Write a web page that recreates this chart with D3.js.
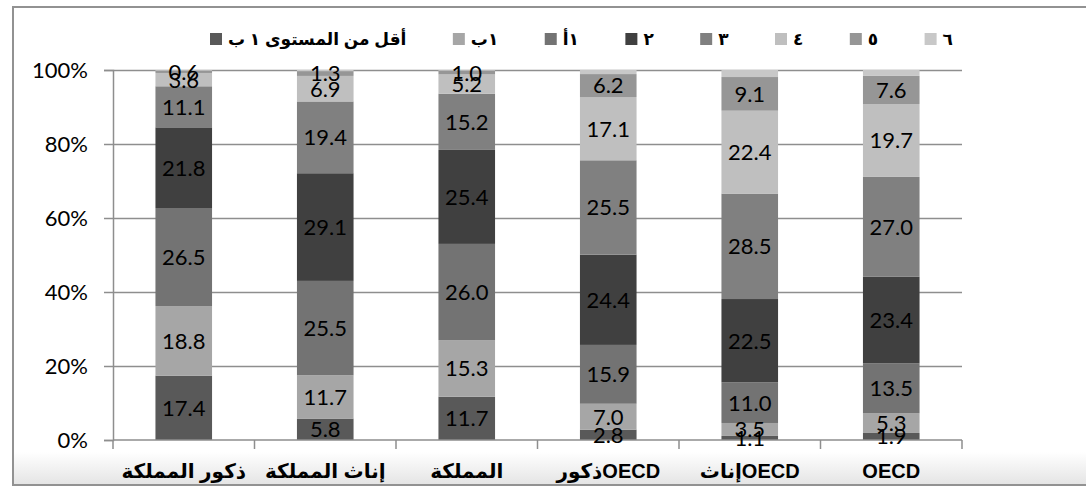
<!DOCTYPE html>
<html>
<head>
<meta charset="utf-8">
<script src="https://cdn.jsdelivr.net/npm/d3@7"></script>
<style>
  body { margin: 0; background: #fff; }
  svg { display: block; }
</style>
</head>
<body>
<svg id="chart"></svg>
<script>
const width = 1086;
const height = 487;

// categories, left to right
const categories = ["ذكور المملكة", "إناث المملكة", "المملكة", "ذكورOECD", "إناثOECD", "OECD"];

// series, bottom to top
const seriesNames = ["أقل من المستوى ١ ب", "١ب", "١أ", "٢", "٣", "٤", "٥", "٦"];
const below1b = [17.4, 5.8, 11.7, 2.8, 1.1, 1.9];
const level1b = [18.8, 11.7, 15.3, 7.0, 3.5, 5.3];
const level1a = [26.5, 25.5, 26.0, 15.9, 11.0, 13.5];
const level2 = [21.8, 29.1, 25.4, 24.4, 22.5, 23.4];
const level3 = [11.1, 19.4, 15.2, 25.5, 28.5, 27.0];
const level4 = [3.6, 6.9, 5.2, 17.1, 22.4, 19.7];
const level5 = [0.6, 1.3, 1.0, 6.2, 9.1, 7.6];
const level6 = [0.2, 0.3, 0.2, 1.1, 1.9, 1.6];

const yTicks = [0, 0.2, 0.4, 0.6, 0.8, 1];

const colors = ["#595959", "#a6a6a6", "#737373", "#404040", "#808080", "#bfbfbf", "#969696", "#c8c8c8"];
// level 6 has no labels in the original
const showLabel = [true, true, true, true, true, true, true, false];

const seriesValues = [below1b, level1b, level1a, level2, level3, level4, level5, level6];

const rows = categories.map((c, i) => {
    const r = { cat: c };
    seriesNames.forEach((s, j) => r[s] = seriesValues[j][i]);
    return r;
});

const stacked = d3.stack()
    .keys(seriesNames)
    .offset(d3.stackOffsetExpand)(rows);

const plot = { left: 113, right: 962, top: 70, bottom: 440 };
const numFont = "Lato, 'Open Sans', sans-serif";
const boldFont = "'Liberation Sans', 'DejaVu Sans', sans-serif";

const svg = d3.select("#chart")
    .attr("width", width)
    .attr("height", height)
    .attr("viewBox", [0, 0, width, height]);

// chart area frame with light shade at the bottom
const defs = svg.append("defs");
const grad = defs.append("linearGradient")
    .attr("id", "shade")
    .attr("x1", 0).attr("x2", 0).attr("y1", 0).attr("y2", 1);
grad.append("stop").attr("offset", "0%").attr("stop-color", "#ffffff");
grad.append("stop").attr("offset", "100%").attr("stop-color", "#e4e4e4");

svg.append("rect")
    .attr("x", 13).attr("y", 452)
    .attr("width", width).attr("height", 33)
    .attr("fill", "url(#shade)");

svg.append("rect")
    .attr("x", 13).attr("y", 7)
    .attr("width", width + 10).attr("height", 478)
    .attr("fill", "none")
    .attr("stroke", "#929292")
    .attr("stroke-width", 2);

const x = d3.scaleBand()
    .domain(categories)
    .range([plot.left, plot.right])
    .paddingInner(0.6)
    .paddingOuter(0.3);

const y = d3.scaleLinear()
    .domain([0, 1])
    .range([plot.bottom, plot.top]);

// gridlines
svg.append("g")
    .attr("transform", `translate(${plot.left},0)`)
    .call(d3.axisLeft(y).tickValues(yTicks.slice(1)).tickSize(-(plot.right - plot.left)).tickFormat(""))
    .call(g => g.select(".domain").remove())
    .call(g => g.selectAll("line").attr("stroke", "#8e8e8e").attr("stroke-width", 1.5));

// y axis
svg.append("g")
    .attr("transform", `translate(${plot.left},0)`)
    .call(d3.axisLeft(y).tickValues(yTicks).tickSize(9).tickPadding(16).tickFormat(d3.format(".0%")))
    .call(g => g.select(".domain").attr("stroke", "#8e8e8e").attr("stroke-width", 1.5))
    .call(g => g.selectAll("line").attr("stroke", "#8e8e8e").attr("stroke-width", 1.5))
    .call(g => g.selectAll("text")
        .attr("font-family", numFont)
        .attr("font-size", 22)
        .attr("fill", "#000"));

// bars
const layer = svg.append("g")
    .selectAll("g")
    .data(stacked)
    .join("g")
    .attr("fill", (d, i) => colors[i]);

layer.selectAll("rect")
    .data(d => d)
    .join("rect")
    .attr("x", d => x(d.data.cat))
    .attr("width", x.bandwidth())
    .attr("y", d => y(d[1]))
    .attr("height", d => y(d[0]) - y(d[1]));

// x axis with ticks between categories
const xEdges = d3.range(categories.length + 1).map(i => plot.left + i * x.step());
svg.append("line")
    .attr("x1", plot.left).attr("x2", plot.right)
    .attr("y1", plot.bottom).attr("y2", plot.bottom)
    .attr("stroke", "#8e8e8e").attr("stroke-width", 1.5);
svg.append("g")
    .selectAll("line")
    .data(xEdges)
    .join("line")
    .attr("x1", d => d).attr("x2", d => d)
    .attr("y1", plot.bottom).attr("y2", plot.bottom + 9)
    .attr("stroke", "#8e8e8e").attr("stroke-width", 1.5);

// category labels (ltr base keeps the Arabic word left of "OECD")
svg.append("g")
    .selectAll("text")
    .data(categories)
    .join("text")
    .attr("x", d => x(d) + x.bandwidth() / 2)
    .attr("y", 478)
    .attr("text-anchor", "middle")
    .attr("direction", "ltr")
    .attr("font-family", boldFont)
    .attr("font-weight", "bold")
    .attr("font-size", 20)
    .attr("fill", "#000")
    .text(d => d);

// data labels
stacked.forEach((s, i) => {
    if (!showLabel[i]) return;
    svg.append("g")
        .selectAll("text")
        .data(s)
        .join("text")
        .attr("x", d => x(d.data.cat) + x.bandwidth() / 2)
        .attr("y", d => y((d[0] + d[1]) / 2))
        .attr("dy", "0.36em")
        .attr("text-anchor", "middle")
        .attr("font-family", numFont)
        .attr("font-size", 22)
        .attr("fill", "#000")
        .text(d => d3.format(".1f")(d.data[s.key]));
});

// legend: square then label, spread between 210 and 953
const legend = svg.append("g");
const items = legend.selectAll("g")
    .data(seriesNames)
    .join("g");
items.append("rect")
    .attr("width", 12).attr("height", 12)
    .attr("y", 33)
    .attr("fill", (d, i) => colors[i]);
items.append("text")
    .attr("x", 18)
    .attr("y", 45)
    .attr("font-family", boldFont)
    .attr("font-weight", "bold")
    .attr("font-size", 17)
    .attr("fill", "#000")
    .text(d => d);

const widths = items.nodes().map(n => 18 + n.querySelector("text").getComputedTextLength());
const legStart = 210, legEnd = 953;
const gap = (legEnd - legStart - d3.sum(widths)) / (widths.length - 1);
let cx = legStart;
items.each(function (d, i) {
    d3.select(this).attr("transform", `translate(${cx},0)`);
    cx += widths[i] + gap;
});
</script>
</body>
</html>
